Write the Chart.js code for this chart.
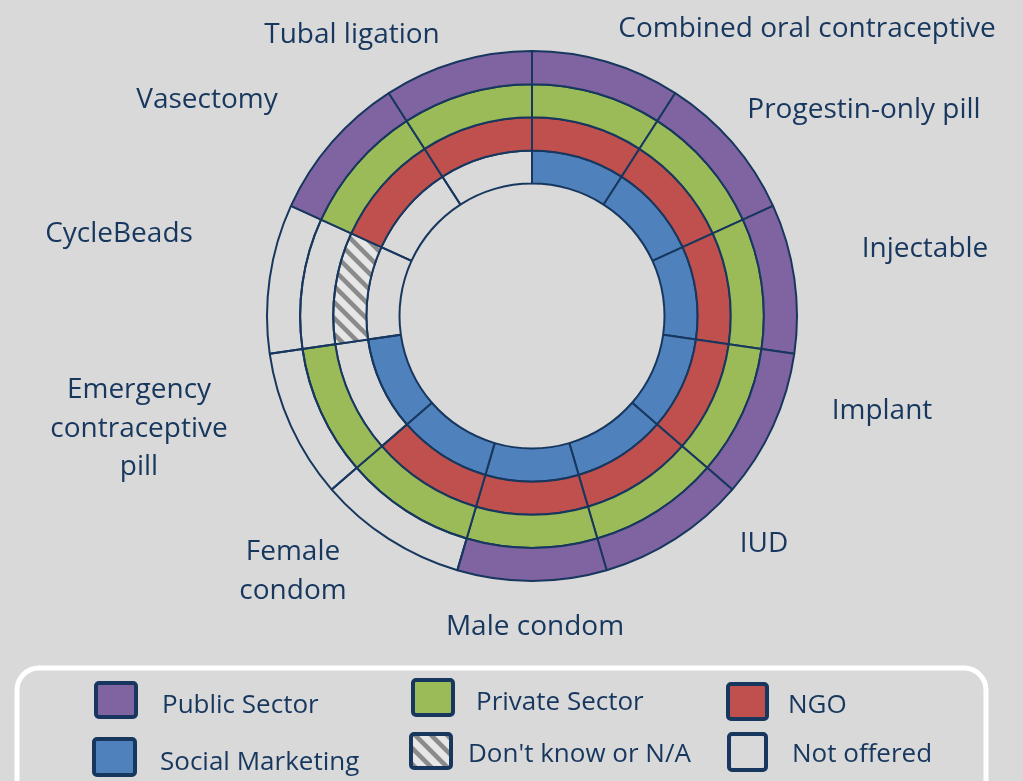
<!DOCTYPE html>
<html>
<head>
<meta charset="utf-8">
<script src="https://cdn.jsdelivr.net/npm/chart.js@4"></script>
<style>
  html, body { margin: 0; padding: 0; background: #d9d9d9; }
  #wrap { width: 1023px; height: 781px; position: relative; }
</style>
</head>
<body>
<div id="wrap"><canvas id="canvas" width="1023" height="781"></canvas></div>
<script>
// methods, clockwise from 12 o'clock
const methods = ['Combined oral contraceptive', 'Progestin-only pill', 'Injectable', 'Implant', 'IUD',
  'Male condom', 'Female condom', 'Emergency contraceptive pill', 'CycleBeads', 'Vasectomy', 'Tubal ligation'];
// every method gets the same slice
const sliceShare = [1, 1, 1, 1, 1, 1, 1, 1, 1, 1, 1];

// 1 = offered, 0 = not offered, -1 = don't know / N/A  (rings from outside in)
const publicSector    = [1, 1, 1, 1, 1, 1, 0, 0, 0, 1, 1];
const privateSector   = [1, 1, 1, 1, 1, 1, 1, 1, 0, 1, 1];
const ngo             = [1, 1, 1, 1, 1, 1, 1, 0, -1, 1, 1];
const socialMarketing = [1, 1, 1, 1, 1, 1, 1, 1, 0, 0, 0];

const sectorNames = ['Public Sector', 'Private Sector', 'NGO', 'Social Marketing'];
const legendNames = ['Public Sector', 'Private Sector', 'NGO', 'Social Marketing', "Don't know or N/A", 'Not offered'];

const NAVY = '#17375E';
const sectorColors = ['#8064A2', '#9BBB59', '#C0504D', '#4F81BD'];

// hatch for "don't know"
function makeHatch() {
  const s = 16;
  const c = document.createElement('canvas');
  c.width = s; c.height = s;
  const g = c.getContext('2d');
  g.fillStyle = '#e6e6e6';
  g.fillRect(0, 0, s, s);
  g.strokeStyle = '#8a8a8a';
  g.lineWidth = 4.5;
  [-s, 0, s].forEach(o => {
    g.beginPath();
    g.moveTo(o - 2, -2);
    g.lineTo(o + s + 2, s + 2);
    g.stroke();
  });
  return g.createPattern(c, 'repeat');
}
const hatch = makeHatch();

function colorsFor(status, col) {
  return status.map(v => v === 1 ? col : (v === -1 ? hatch : 'rgba(0,0,0,0)'));
}

const rings = [publicSector, privateSector, ngo, socialMarketing];

// where the method names sit (baseline, centred)
const labelLayout = [
  { x: 807, y: 37 },
  { x: 864, y: 118 },
  { x: 925, y: 257 },
  { x: 882, y: 419 },
  { x: 764, y: 552 },
  { x: 535, y: 635 },
  { x: 293, y: 560, wrap: true },
  { x: 139, y: 398, wrap: true },
  { x: 119, y: 242 },
  { x: 207, y: 108 },
  { x: 352, y: 43 }
];

// legend swatches + text
const legendLayout = [
  { box: [94, 681, 44, 38], tx: 162, ty: 713 },
  { box: [411, 678, 44, 39], tx: 476, ty: 710 },
  { box: [726, 682, 43, 39], tx: 788, ty: 713 },
  { box: [92, 737, 45, 40], tx: 160, ty: 770 },
  { box: [409, 732, 44, 38], tx: 468, ty: 762 },
  { box: [727, 732, 41, 40], tx: 792, ty: 762 }
];

function roundRect(ctx, x, y, w, h, r) {
  ctx.beginPath();
  ctx.moveTo(x + r, y);
  ctx.arcTo(x + w, y, x + w, y + h, r);
  ctx.arcTo(x + w, y + h, x, y + h, r);
  ctx.arcTo(x, y + h, x, y, r);
  ctx.arcTo(x, y, x + w, y, r);
  ctx.closePath();
}

const annotations = {
  id: 'annotations',
  afterDraw(chart) {
    const ctx = chart.ctx;
    ctx.save();
    // method labels
    ctx.fillStyle = NAVY;
    ctx.font = '28px "Open Sans"';
    ctx.textAlign = 'center';
    ctx.textBaseline = 'alphabetic';
    chart.data.labels.forEach((name, i) => {
      const p = labelLayout[i];
      const lines = p.wrap ? name.split(' ') : [name];
      lines.forEach((ln, k) => ctx.fillText(ln, p.x, p.y + k * 38.5));
    });

    // legend frame
    ctx.strokeStyle = '#ffffff';
    ctx.lineWidth = 5;
    roundRect(ctx, 17, 668, 969, 150, 22);
    ctx.stroke();

    const fills = sectorColors.concat([hatch, 'rgba(0,0,0,0)']);
    ctx.font = '26px "Open Sans"';
    ctx.textAlign = 'left';
    legendNames.forEach((name, i) => {
      const L = legendLayout[i];
      const [x, y, w, h] = L.box;
      roundRect(ctx, x + 2, y + 2, w - 4, h - 4, 3);
      ctx.fillStyle = fills[i];
      ctx.fill();
      ctx.strokeStyle = NAVY;
      ctx.lineWidth = 4;
      ctx.stroke();
      ctx.fillStyle = NAVY;
      ctx.fillText(name, L.tx, L.ty);
    });
    ctx.restore();
  }
};

new Chart(document.getElementById('canvas').getContext('2d'), {
  type: 'doughnut',
  data: {
    labels: methods,
    datasets: rings.map((status, i) => ({
      label: sectorNames[i],
      data: sliceShare,
      backgroundColor: colorsFor(status, sectorColors[i]),
      borderColor: NAVY,
      borderWidth: 2
    }))
  },
  options: {
    responsive: false,
    animation: false,
    events: [],
    cutout: '50%',
    layout: { padding: { left: 266, right: 225, top: 50, bottom: 199 } },
    plugins: {
      legend: { display: false },
      tooltip: { enabled: false }
    }
  },
  plugins: [annotations]
});
</script>
</body>
</html>
